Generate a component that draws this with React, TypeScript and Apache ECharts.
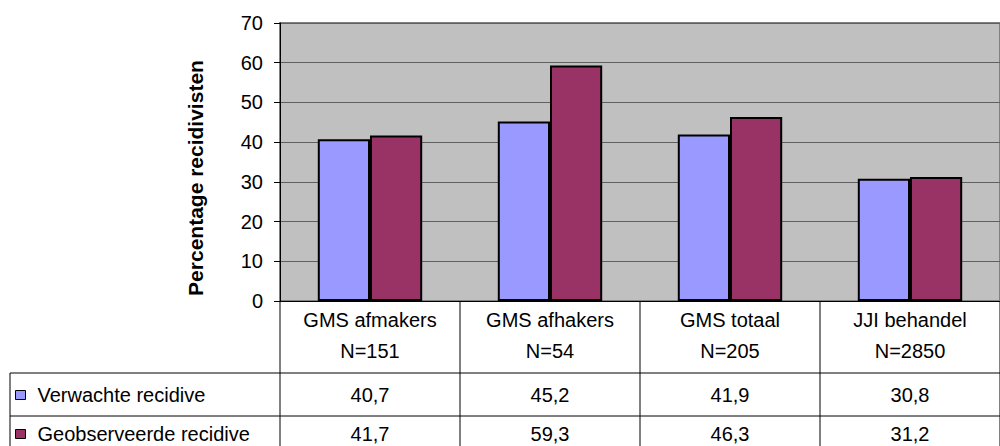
import React, { useEffect, useRef } from "react";
import * as echarts from "echarts";

const categories = ["GMS afmakers", "GMS afhakers", "GMS totaal", "JJI behandel"];
const groupSizes = ["N=151", "N=54", "N=205", "N=2850"];
const seriesNames = ["Verwachte recidive", "Geobserveerde recidive"];
const verwachte = [40.7, 45.2, 41.9, 30.8];
const geobserveerde = [41.7, 59.3, 46.3, 31.2];
const yTicks = [0, 10, 20, 30, 40, 50, 60, 70];
const yTitle = "Percentage recidivisten";

const FONT = "'Liberation Sans', Arial, sans-serif";
const COLORS = ["#9999FF", "#993366"];

const GRID_LEFT = 280;
const GRID_TOP = 23;
const GRID_WIDTH = 734;
const GRID_HEIGHT = 278;
const ROW1_TOP = 373;
const ROW2_TOP = 416;
const ROW_CENTERS = [395, 434];
const FS = 20;

function fmt(v: number): string {
  return v.toFixed(1).replace(".", ",");
}

export default function App() {
  const ref = useRef<HTMLDivElement>(null);
  useEffect(() => {
    if (!ref.current) return;
    const chart = echarts.init(ref.current, null, { renderer: "svg" });
    chart.setOption({
      animation: false,
      textStyle: { fontFamily: FONT },
      grid: {
        left: GRID_LEFT,
        top: GRID_TOP,
        width: GRID_WIDTH,
        height: GRID_HEIGHT,
        show: true,
        backgroundColor: "#C0C0C0",
        borderColor: "#808080",
        borderWidth: 2,
        containLabel: false,
      },
      legend: seriesNames.map((name, i) => ({
        orient: "vertical",
        left: 15,
        top: ROW_CENTERS[i] - 11,
        itemWidth: 10,
        itemHeight: 9,
        icon: "rect",
        data: [name],
        itemStyle: { borderColor: "#000", borderWidth: 1 },
        textStyle: { fontSize: FS, color: "#000", fontFamily: FONT, lineHeight: 22, padding: [0, 0, 0, 7] },
        selectedMode: false,
        padding: 0,
      })),
      xAxis: {
        type: "category",
        data: categories.map((c, i) => c + "\n" + groupSizes[i]),
        axisLine: { show: true, lineStyle: { color: "#000", width: 1 } },
        axisTick: { show: false },
        axisLabel: {
          color: "#000",
          fontSize: FS,
          lineHeight: 31,
          margin: 3,
          fontFamily: FONT,
        },
      },
      yAxis: {
        type: "value",
        min: 0,
        max: 70,
        interval: 10,
        axisLine: { show: true, lineStyle: { color: "#000", width: 1 } },
        axisTick: { show: true, inside: false, length: 6, lineStyle: { color: "#000" } },
        axisLabel: {
          color: "#000",
          fontSize: FS,
          margin: 17,
          fontFamily: FONT,
          customValues: yTicks,
        },
        splitLine: { show: true, lineStyle: { color: "#606060", width: 1 } },
      },
      series: [
        {
          name: seriesNames[0],
          type: "bar",
          data: verwachte,
          barGap: "0%",
          barCategoryGap: "42%",
          itemStyle: { color: COLORS[0], borderColor: "#000", borderWidth: 2 },
        },
        {
          name: seriesNames[1],
          type: "bar",
          data: geobserveerde,
          barGap: "0%",
          barCategoryGap: "42%",
          itemStyle: { color: COLORS[1], borderColor: "#000", borderWidth: 2 },
        },
      ],
    });

    const centers = categories.map((_, i) => chart.convertToPixel({ xAxisIndex: 0 }, i) as number);
    const step = centers.length > 1 ? centers[1] - centers[0] : GRID_WIDTH;
    const bounds = centers.map((c) => c - step / 2);
    bounds.push(centers[centers.length - 1] + step / 2);
    const zeroY = chart.convertToPixel({ yAxisIndex: 0 }, 0) as number;
    const bottom = 446;
    const lineStyle = { stroke: "#000", lineWidth: 1 };

    const elements: any[] = [];
    elements.push({
      type: "text",
      x: 195,
      y: 178,
      rotation: Math.PI / 2,
      style: {
        text: yTitle,
        fill: "#000",
        font: `bold 21px ${FONT}`,
        align: "center",
        verticalAlign: "middle",
      },
    });
    elements.push({ type: "line", shape: { x1: 10, y1: ROW1_TOP, x2: 1000, y2: ROW1_TOP }, style: lineStyle, z: 10 });
    elements.push({ type: "line", shape: { x1: 10, y1: ROW2_TOP, x2: 1000, y2: ROW2_TOP }, style: lineStyle, z: 10 });
    elements.push({ type: "line", shape: { x1: 10, y1: ROW1_TOP, x2: 10, y2: bottom }, style: lineStyle, z: 10 });
    bounds.forEach((b) => {
      elements.push({
        type: "line",
        shape: { x1: b, y1: zeroY, x2: b, y2: bottom },
        style: lineStyle,
        z: 10,
      });
    });
    const rows = [verwachte, geobserveerde];
    rows.forEach((vals, r) => {
      vals.forEach((v, i) => {
        elements.push({
          type: "text",
          x: centers[i],
          y: ROW_CENTERS[r],
          style: {
            text: fmt(v),
            fill: "#000",
            font: `${FS}px ${FONT}`,
            align: "center",
            verticalAlign: "middle",
          },
          z: 10,
        });
      });
    });
    chart.setOption({ graphic: { elements } });

    return () => chart.dispose();
  }, []);
  return (
    <div
      ref={ref}
      style={{ position: "absolute", left: 0, top: 0, width: 1000, height: 446, background: "#fff" }}
    />
  );
}
